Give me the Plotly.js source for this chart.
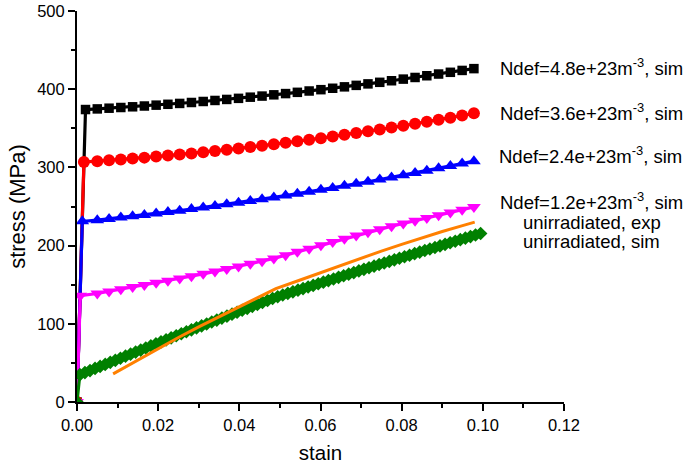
<!DOCTYPE html>
<html>
<head>
<meta charset="utf-8">
<script src="https://cdn.plot.ly/plotly-3.0.1.min.js"></script>
<style>html,body{margin:0;padding:0;background:#fff;}#chart{width:685px;height:464px;}</style>
</head>
<body>
<div id="chart"></div>
<script>
// plastic-region strain points shared by the four irradiated simulations
const strainPlastic = [0.0050, 0.0079, 0.0108, 0.0137, 0.0166, 0.0195, 0.0224, 0.0253, 0.0282, 0.0311,
  0.0340, 0.0369, 0.0398, 0.0427, 0.0456, 0.0485, 0.0514, 0.0543, 0.0572, 0.0601, 0.0630, 0.0659,
  0.0688, 0.0717, 0.0746, 0.0775, 0.0804, 0.0833, 0.0862, 0.0891, 0.0920, 0.0949, 0.0978];

const strainN48 = [0, 0.0021].concat(strainPlastic);
const stressN48 = [0, 374.0, 374.8, 375.7, 376.6, 377.5, 378.5, 379.6, 380.7, 381.8, 383.0, 384.3, 385.6,
  386.9, 388.3, 389.8, 391.2, 392.8, 394.4, 396.0, 397.7, 399.4, 401.2, 403.0, 404.9, 406.8, 408.8,
  410.8, 412.9, 415.0, 417.2, 419.4, 421.6, 424.0, 426.3];

const strainN36 = [0, 0.0017].concat(strainPlastic);
const stressN36 = [0, 307.0, 308.0, 309.0, 310.2, 311.3, 312.5, 313.8, 315.1, 316.5, 317.9, 319.4, 321.0,
  322.6, 324.3, 326.0, 327.7, 329.6, 331.4, 333.4, 335.4, 337.4, 339.5, 341.7, 343.9, 346.2, 348.5,
  350.9, 353.3, 355.8, 358.4, 361.0, 363.6, 366.4, 369.1];

const strainN24 = [0, 0.0013].concat(strainPlastic);
const stressN24 = [0, 231.0, 232.5, 234.1, 235.8, 237.5, 239.2, 241.0, 242.9, 244.7, 246.7, 248.7, 250.7,
  252.8, 254.9, 257.1, 259.4, 261.6, 264.0, 266.4, 268.8, 271.3, 273.8, 276.4, 279.0, 281.7, 284.4,
  287.2, 290.0, 292.9, 295.8, 298.8, 301.8, 304.9, 308.0];

const strainN12 = [0, 0.0008].concat(strainPlastic);
const stressN12 = [0, 136.0, 138.7, 141.4, 144.1, 146.9, 149.6, 152.4, 155.2, 158.0, 160.9, 163.9, 167.0,
  170.2, 173.4, 176.7, 180.1, 183.6, 187.8, 192.0, 196.1, 200.3, 204.5, 208.7, 212.9, 217.0, 221.0,
  224.7, 228.3, 231.8, 235.3, 238.8, 242.3, 245.8, 249.3];

const strainUnirrSim = [0, 0.0007, 0.00195, 0.0032, 0.00445, 0.0057, 0.00695, 0.0082, 0.00945, 0.0107, 0.01195,
  0.0132, 0.01445, 0.0157, 0.01695, 0.0182, 0.01945, 0.0207, 0.02195, 0.0232, 0.02445, 0.0257, 0.02695,
  0.0282, 0.02945, 0.0307, 0.03195, 0.0332, 0.03445, 0.0357, 0.03695, 0.0382, 0.03945, 0.0407, 0.04195,
  0.0432, 0.04445, 0.0457, 0.04695, 0.0482, 0.04945, 0.0507, 0.05195, 0.0532, 0.05445, 0.0557, 0.05695,
  0.0582, 0.05945, 0.0607, 0.06195, 0.0632, 0.06445, 0.0657, 0.06695, 0.0682, 0.06945, 0.0707, 0.07195,
  0.0732, 0.07445, 0.0757, 0.07695, 0.0782, 0.07945, 0.0807, 0.08195, 0.0832, 0.08445, 0.0857, 0.08695,
  0.0882, 0.08945, 0.0907, 0.09195, 0.0932, 0.09445, 0.0957, 0.09695, 0.0982, 0.09945];
const stressUnirrSim = [0, 35.0, 37.6, 40.2, 42.9, 45.5, 48.1, 50.7, 53.3, 56.0, 58.6, 61.2, 63.8, 66.4, 69.1,
  71.7, 74.3, 76.9, 79.5, 82.1, 84.7, 87.3, 89.8, 92.3, 94.8, 97.3, 99.8, 102.3, 104.8, 107.3, 109.8,
  112.3, 114.8, 117.3, 119.8, 122.3, 124.8, 127.3, 129.8, 132.3, 134.6, 136.8, 138.9, 140.9, 143.0,
  145.0, 147.1, 149.1, 151.2, 153.2, 155.3, 157.3, 159.4, 161.4, 163.5, 165.5, 167.6, 169.6, 171.7,
  173.7, 175.8, 177.8, 179.8, 181.8, 183.8, 185.7, 187.7, 189.7, 191.7, 193.7, 195.7, 197.6, 199.6,
  201.6, 203.6, 205.6, 207.6, 209.5, 211.5, 213.5, 215.5];

const strainUnirrExp = [0.0089, 0.015, 0.020, 0.025, 0.030, 0.035, 0.040, 0.045, 0.049, 0.055, 0.060,
  0.065, 0.070, 0.075, 0.080, 0.085, 0.090, 0.095, 0.098];
const stressUnirrExp = [36, 54, 68.5, 82.5, 96, 109, 122, 134.5, 145, 156, 165.5, 175, 184, 193, 201.5,
  210, 218, 225.5, 230];

const xTickVals = [0, 0.02, 0.04, 0.06, 0.08, 0.10, 0.12];
const xTickText = ['0.00', '0.02', '0.04', '0.06', '0.08', '0.10', '0.12'];
const yTickVals = [0, 100, 200, 300, 400, 500];

const labels = ['Ndef=4.8e+23m<sup>-3</sup>, sim', 'Ndef=3.6e+23m<sup>-3</sup>, sim',
  'Ndef=2.4e+23m<sup>-3</sup>, sim', 'Ndef=1.2e+23m<sup>-3</sup>, sim',
  'unirradiated, exp', 'unirradiated, sim'];

const FONT = 'Arial, "Liberation Sans", sans-serif';

function simTrace(x, y, color, symbol, size) {
  return {x: x, y: y, type: 'scatter', mode: 'lines+markers',
    line: {color: color, width: 3.2},
    marker: {color: color, symbol: symbol, size: size, line: {width: 0}},
    showlegend: false, hoverinfo: 'skip'};
}

const data = [
  simTrace(strainN48, stressN48, '#000000', 'square', 9.5),
  simTrace(strainN36, stressN36, '#ff0000', 'circle', 12),
  simTrace(strainN24, stressN24, '#0000ff', 'triangle-up', 12),
  simTrace(strainN12, stressN12, '#ff00ff', 'triangle-down', 12),
  simTrace(strainUnirrSim, stressUnirrSim, '#008000', 'diamond', 10.5),
  {x: strainUnirrExp, y: stressUnirrExp, type: 'scatter', mode: 'lines',
    line: {color: '#ff8000', width: 3}, showlegend: false, hoverinfo: 'skip'}
];

const annFont = {family: FONT, size: 18.5, color: '#000'};
const annotations = [
  {text: labels[0], xref: 'paper', yref: 'paper', x: 0.8645, y: 0.857, xanchor: 'left', yanchor: 'middle', showarrow: false, font: annFont},
  {text: labels[1], xref: 'paper', yref: 'paper', x: 0.8645, y: 0.7425, xanchor: 'left', yanchor: 'middle', showarrow: false, font: annFont},
  {text: labels[2], xref: 'paper', yref: 'paper', x: 0.863, y: 0.6317, xanchor: 'left', yanchor: 'middle', showarrow: false, font: annFont},
  {text: labels[3], xref: 'paper', yref: 'paper', x: 1.0565, y: 0.5146, xanchor: 'center', yanchor: 'middle', showarrow: false, font: annFont},
  {text: labels[4], xref: 'paper', yref: 'paper', x: 1.0565, y: 0.4586, xanchor: 'center', yanchor: 'middle', showarrow: false, font: annFont},
  {text: labels[5], xref: 'paper', yref: 'paper', x: 1.0565, y: 0.41, xanchor: 'center', yanchor: 'middle', showarrow: false, font: annFont}
];

const layout = {
  width: 685, height: 464,
  margin: {l: 77, r: 121, t: 11, b: 62},
  paper_bgcolor: '#fff', plot_bgcolor: '#fff',
  font: {family: FONT, size: 16, color: '#000'},
  xaxis: {
    range: [0, 0.12], showgrid: false, zeroline: false,
    showline: true, linecolor: '#000', linewidth: 2,
    ticks: 'outside', ticklen: 7, tickwidth: 2, tickcolor: '#000',
    tickvals: xTickVals, ticktext: xTickText,
    tickfont: {family: FONT, size: 16.5},
    minor: {ticks: 'outside', dtick: 0.01, ticklen: 4, tickwidth: 2, tickcolor: '#000', showgrid: false},
    title: {text: 'stain', font: {family: FONT, size: 20.5}, standoff: 14},
    automargin: false
  },
  yaxis: {
    range: [0, 500], showgrid: false, zeroline: false,
    showline: true, linecolor: '#000', linewidth: 2,
    ticks: 'outside', ticklen: 7, tickwidth: 2, tickcolor: '#000',
    tickvals: yTickVals,
    tickfont: {family: FONT, size: 16.5},
    minor: {ticks: 'outside', dtick: 50, ticklen: 4, tickwidth: 2, tickcolor: '#000', showgrid: false},
    title: {text: 'stress (MPa)', font: {family: FONT, size: 22}, standoff: 5},
    automargin: false
  },
  annotations: annotations
};

Plotly.newPlot('chart', data, layout, {staticPlot: true, displayModeBar: false});
</script>
</body>
</html>
